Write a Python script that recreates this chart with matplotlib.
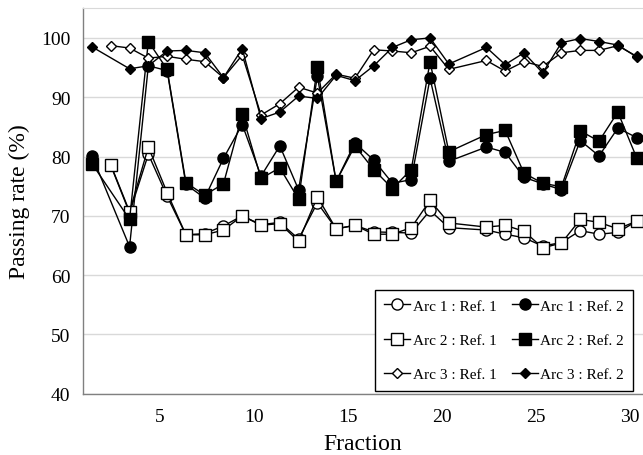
import numpy as np
import matplotlib
matplotlib.use("Agg")
import matplotlib.pyplot as plt
import matplotlib.transforms as mtransforms

plt.rcParams['font.family'] = ['Liberation Serif', 'DejaVu Serif']

fractions = [1, 2, 3, 4, 5, 6, 7, 8, 9, 10, 11, 12, 13, 14, 15, 16, 17, 18, 19, 20,
             22, 23, 24, 25, 26, 27, 28, 29, 30]
nan = np.nan
arc1_ref1 = [nan, 78.5, 70.5, 80.4, 73.3, 66.8, 67.0, 68.3, 70.0, 68.5, 68.9, 66.1, 72.2, 67.8, 68.4,
             67.3, 67.2, 67.1, 70.9, 68.0, 67.6, 66.9, 66.3, 64.9, 65.5, 67.5, 66.9, 67.2, 69.1]
arc2_ref1 = [nan, 78.6, 70.7, 81.6, 73.9, 66.8, 66.8, 67.6, 70.0, 68.4, 68.7, 65.7, 73.2, 67.8, 68.4,
             66.9, 66.9, 68.0, 72.6, 68.8, 68.1, 68.4, 67.4, 64.6, 65.4, 69.4, 68.9, 67.8, 69.1]
arc1_ref2 = [80.1, nan, 64.8, 95.3, 94.5, 75.3, 73.0, 79.7, 85.4, 76.7, 81.8, 74.4, 93.5, 75.8, 82.3,
             79.4, 75.5, 76.1, 93.2, 79.2, 81.6, 80.7, 76.5, 75.4, 74.4, 82.7, 80.1, 84.8, 83.2]
arc2_ref2 = [78.8, nan, 69.4, 99.4, 94.7, 75.6, 73.5, 75.4, 87.1, 76.3, 78.1, 72.8, 95.1, 75.8, 81.8,
             77.8, 74.6, 77.8, 96.0, 80.8, 83.7, 84.4, 77.2, 75.5, 74.9, 84.3, 82.6, 87.5, 79.8]
arc3_ref1 = [nan, 98.7, 98.3, 96.6, 96.9, 96.4, 96.0, 93.3, 97.1, 87.0, 88.9, 91.7, 90.7, 93.9, 93.2,
             98.0, 97.8, 97.5, 98.6, 94.7, 96.2, 94.4, 96.0, 95.2, 97.5, 97.9, 97.9, 98.7, 96.9]
arc3_ref2 = [98.5, nan, 94.8, 95.3, 97.8, 97.9, 97.5, 93.3, 98.2, 86.4, 87.5, 90.2, 89.8, 93.7, 92.8,
             95.3, 98.4, 99.7, 100.0, 95.6, 98.4, 95.5, 97.5, 94.1, 99.2, 99.9, 99.4, 98.8, 96.8]

labels = ["Arc 1 : Ref. 1", "Arc 1 : Ref. 2", "Arc 2 : Ref. 1",
          "Arc 2 : Ref. 2", "Arc 3 : Ref. 1", "Arc 3 : Ref. 2"]
series = [arc1_ref1, arc1_ref2, arc2_ref1, arc2_ref2, arc3_ref1, arc3_ref2]
styles = [
    dict(marker='o', mfc='white', ms=8, mew=1.0),
    dict(marker='o', mfc='black', ms=8, mew=1.0),
    dict(marker='s', mfc='white', ms=8, mew=1.0),
    dict(marker='s', mfc='black', ms=8, mew=1.0),
    dict(marker='D', mfc='white', ms=5.5, mew=1.0),
    dict(marker='D', mfc='black', ms=5.5, mew=1.0),
]

fig = plt.figure(figsize=(6.43, 4.56), dpi=100)
ax = fig.add_axes([83/643, 1-394.7/456, 1-83/643, (394.7-9.3)/456])

x = np.array(fractions, dtype=float)
handles = {}
for lab, vals, st in zip(labels, series, styles):
    v = np.array(vals, dtype=float)
    m = ~np.isnan(v)
    h, = ax.plot(x[m], v[m], color='black', lw=1.0, mec='black', label=lab, **st)
    handles[lab] = h

ax.set_xlim(0.52, 30.34)
ax.set_ylim(40, 105)
ax.set_yticks([40, 50, 60, 70, 80, 90, 100])
ax.set_xticks([5, 10, 15, 20, 25, 30])
ax.yaxis.grid(True, color='#d9d9d9', lw=1.0)
ax.set_axisbelow(True)
ax.tick_params(axis='both', length=0, labelsize=14)
ax.tick_params(axis='y', pad=9)
ax.tick_params(axis='x', pad=10)
offset = mtransforms.ScaledTranslation(-7/100, 0, fig.dpi_scale_trans)
for lbl in ax.get_xticklabels():
    lbl.set_transform(lbl.get_transform() + offset)
for s in ['left', 'bottom']:
    ax.spines[s].set_color('#808080')
    ax.spines[s].set_linewidth(1.0)
ax.spines['top'].set_color('#d9d9d9')
ax.spines['right'].set_visible(False)

ax.set_xlabel('Fraction', fontsize=17, labelpad=6)
ax.set_ylabel('Passing rate (%)', fontsize=17, labelpad=8)

order = ["Arc 1 : Ref. 1", "Arc 2 : Ref. 1", "Arc 3 : Ref. 1",
         "Arc 1 : Ref. 2", "Arc 2 : Ref. 2", "Arc 3 : Ref. 2"]
leg = ax.legend([handles[k] for k in order], order, ncol=2, loc='lower right',
                bbox_to_anchor=(0.982, 0.008), borderaxespad=0, fontsize=11,
                frameon=True, fancybox=False, framealpha=1, edgecolor='black',
                handlelength=1.7, handletextpad=0.15, columnspacing=1.0,
                labelspacing=1.35, borderpad=0.6)
leg.get_frame().set_linewidth(1.0)

fig.savefig('out.png', dpi=100)
